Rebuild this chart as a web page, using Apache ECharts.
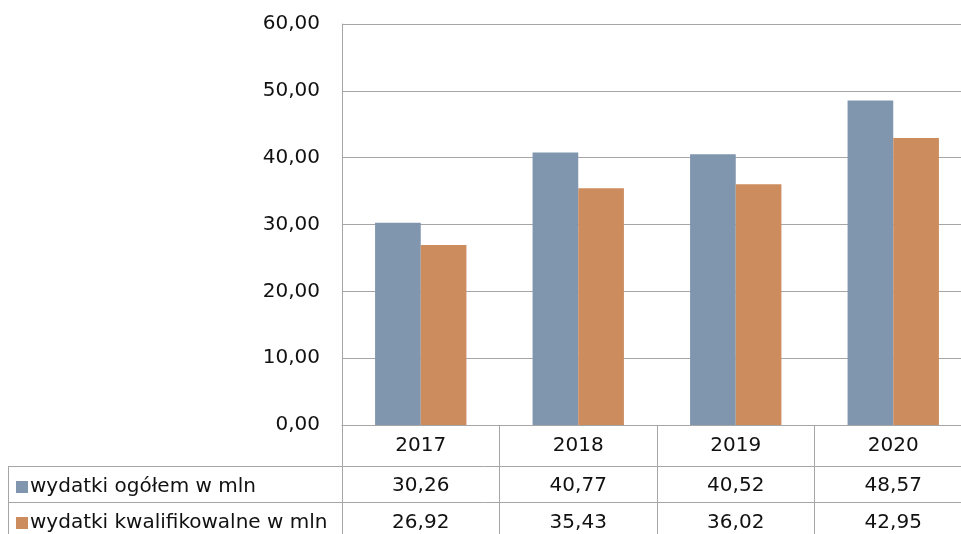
<!DOCTYPE html>
<html>
<head>
<meta charset="utf-8">
<script src="https://cdn.jsdelivr.net/npm/echarts@6/dist/echarts.min.js"></script>
<style>
  html, body { margin: 0; padding: 0; background: #fff; }
  #chart { width: 961px; height: 534px; }
</style>
</head>
<body>
<div id="chart"></div>
<script>
var years = ['2017', '2018', '2019', '2020'];
var ogolem = [30.26, 40.77, 40.52, 48.57];
var kwalif = [26.92, 35.43, 36.02, 42.95];
var seriesNames = ['wydatki ogółem w mln', 'wydatki kwalifikowalne w mln'];
var yTicks = [0, 60, 10]; // min, max, interval

function fmt(v) {
  return Number(v).toFixed(2).replace('.', ',');
}

var font = 'DejaVu Sans, sans-serif';
var fs = 20;
var lineCol = '#a6a6a6';

var myChart = echarts.init(document.getElementById('chart'));
var option = {
  animation: false,
  color: ['#7F96AE', '#CD8C5E'],
  textStyle: { fontFamily: font },
  grid: { left: 342, top: 24, width: 630, height: 401, containLabel: false, outerBoundsMode: 'none' },
  legend: [
    { data: [seriesNames[0]], left: 11, top: 472, icon: 'rect', itemWidth: 12, itemHeight: 12, itemGap: 0,
      textStyle: { fontSize: fs, color: '#111', fontFamily: font, padding: [0, 0, 0, -3] } },
    { data: [seriesNames[1]], left: 11, top: 508, icon: 'rect', itemWidth: 12, itemHeight: 12, itemGap: 0,
      textStyle: { fontSize: fs, color: '#111', fontFamily: font, padding: [0, 0, 0, -3] } }
  ],
  xAxis: [
    {
      type: 'category', data: years, position: 'bottom',
      axisLine: { show: true, lineStyle: { color: lineCol } },
      axisTick: { show: true, length: 112, lineStyle: { color: lineCol } },
      axisLabel: { fontSize: fs, color: '#111', margin: 11, fontFamily: font },
      splitLine: { show: false }
    },
    {
      type: 'category', data: years, position: 'bottom', offset: 40,
      axisLine: { show: false }, axisTick: { show: false },
      axisLabel: { fontSize: fs, color: '#111', margin: 11, fontFamily: font,
        formatter: function (v, i) { return fmt(ogolem[i]); } }
    },
    {
      type: 'category', data: years, position: 'bottom', offset: 77,
      axisLine: { show: false }, axisTick: { show: false },
      axisLabel: { fontSize: fs, color: '#111', margin: 11, fontFamily: font,
        formatter: function (v, i) { return fmt(kwalif[i]); } }
    }
  ],
  yAxis: {
    type: 'value', min: yTicks[0], max: yTicks[1], interval: yTicks[2],
    axisLine: { show: true, lineStyle: { color: lineCol } },
    axisTick: { show: false },
    axisLabel: { fontSize: fs, color: '#111', margin: 22, fontFamily: font, formatter: fmt },
    splitLine: { show: true, lineStyle: { color: lineCol } }
  },
  graphic: [
    { type: 'line', shape: { x1: 8, y1: 466.5, x2: 961, y2: 466.5 }, style: { stroke: lineCol, lineWidth: 1 } },
    { type: 'line', shape: { x1: 8, y1: 502.5, x2: 961, y2: 502.5 }, style: { stroke: lineCol, lineWidth: 1 } },
    { type: 'line', shape: { x1: 8.5, y1: 466.5, x2: 8.5, y2: 534 }, style: { stroke: lineCol, lineWidth: 1 } }
  ],
  series: [
    { name: seriesNames[0], type: 'bar', data: ogolem, barGap: '0%', barCategoryGap: '42%' },
    { name: seriesNames[1], type: 'bar', data: kwalif, barGap: '0%', barCategoryGap: '42%' }
  ]
};
myChart.setOption(option);
</script>
</body>
</html>
